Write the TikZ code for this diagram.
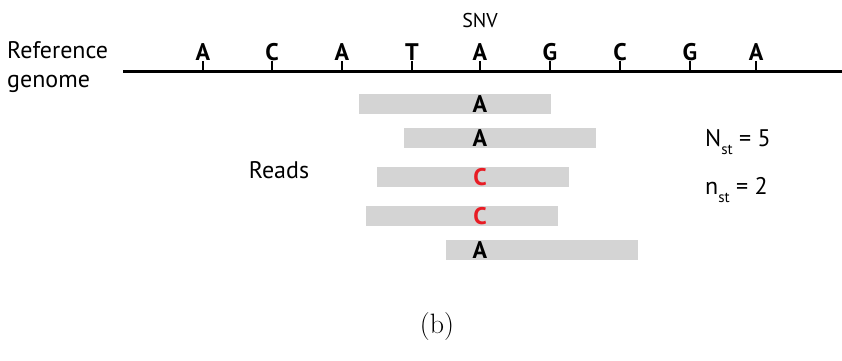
\documentclass[tikz,border=0pt]{standalone}
\usepackage{fontspec}
\usepackage{xcolor}
\usepackage{tikz}
\newfontfamily\figfont{PT Sans}
\definecolor{readgray}{RGB}{212,212,212}
\definecolor{snvred}{RGB}{232,28,36}

\begin{document}
\begin{tikzpicture}[x=1pt,y=-1pt,
    base/.style={font=\figfont\bfseries\fontsize{24}{24}\selectfont,inner sep=0pt,anchor=south},
    label/.style={font=\figfont\fontsize{24}{29}\selectfont,inner sep=0pt},
    read/.style={fill=readgray,minimum width=192pt,minimum height=20pt,inner sep=0pt}]
    \useasboundingbox (0,0) rectangle (842,360);
    % reference genome
    \coordinate (gl) at (123,71);
    \coordinate (gr) at (842,71);
    \draw[line width=3pt] (gl) -- (gr);
    \node[label,align=left,anchor=west] (ref) at (7,67) {Reference\\genome};
    \foreach \b/\x [count=\i] in {A/203,C/272,A/342,T/412,A/480,G/550,C/620,G/690,A/756} {
        \node[base] (b\i) at (\x,61) {\b};
        \draw[line width=1.8pt] (b\i.south) -- (b\i.south |- gl);
    }
    \node[label,font=\figfont\fontsize{20}{22}\selectfont] (snv) at (480,20) {SNV};
    % reads
    \node[read] (r1) at (455,104) {};
    \node[read] (r2) at (500,138) {};
    \node[read] (r3) at (473,177) {};
    \node[read] (r4) at (462,216) {};
    \node[read] (r5) at (542,250) {};
    \node[base,anchor=center] (s1) at (480,104) {A};
    \node[base,anchor=center] (s2) at (480,138) {A};
    \node[base,anchor=center,text=snvred] (s3) at (480,177) {C};
    \node[base,anchor=center,text=snvred] (s4) at (480,216) {C};
    \node[base,anchor=center] (s5) at (480,250) {A};
    \node[label] (reads) at (279,170) {Reads};
    \node[label,anchor=west] (nbig) at (705,142) {N\raisebox{-8pt}{\fontsize{15}{15}\selectfont st} = 5};
    \node[label,anchor=west] (nsmall) at (705,190) {n\raisebox{-8pt}{\fontsize{15}{15}\selectfont st} = 2};
    \node[font=\fontsize{28}{32}\selectfont] (cap) at (437,327) {(b)};
\end{tikzpicture}
\end{document}
